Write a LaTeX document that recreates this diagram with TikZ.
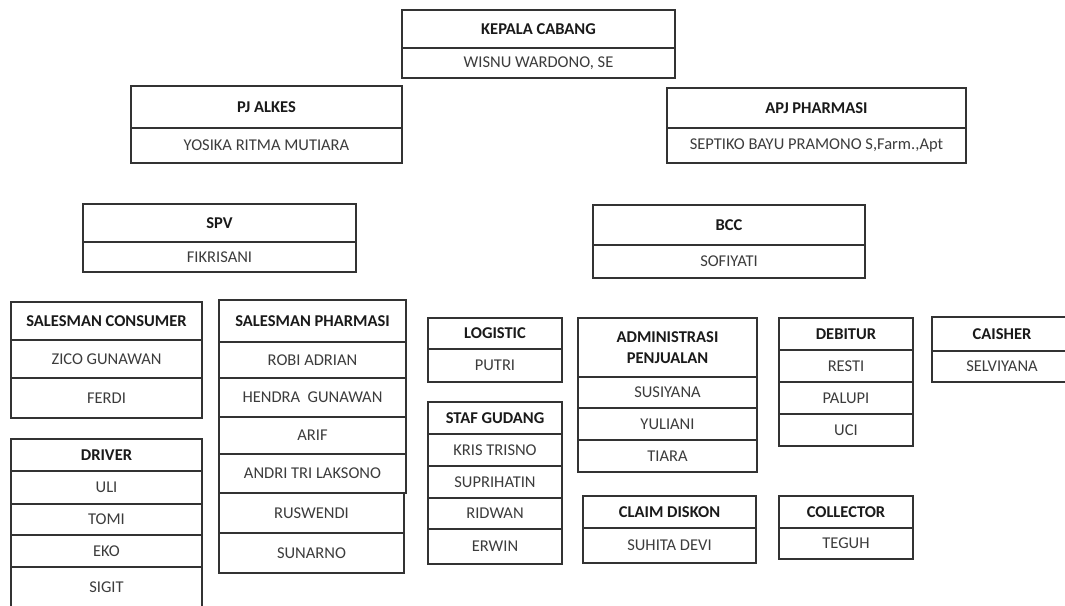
\documentclass[tikz,border=0pt]{standalone}
\usepackage{fontspec}
\setmainfont{Carlito}
\usepackage{xcolor}
\usepackage{tikz}
\usetikzlibrary{positioning}
\definecolor{boxline}{HTML}{333333}
\definecolor{headtext}{HTML}{1A1A1A}
\definecolor{nametext}{HTML}{3C3C3C}

\begin{document}
\begin{tikzpicture}[
    x=1pt, y=-1pt,
    every node/.style={align=center, inner sep=0pt, outer sep=0pt},
    cell/.style={rectangle, draw=boxline, line width=1.1pt, font=\fontsize{16.5}{21}\selectfont\color{nametext}},
    head/.style={cell, font=\fontsize{16.5}{21}\selectfont\bfseries\color{headtext}}
]
\fill[white] (0,0) rectangle (1065,605);
\useasboundingbox (0,0) rectangle (1065,605);
\clip (0,0) rectangle (1065,605);

% Top level
\node[head, minimum width=273pt, minimum height=38pt, anchor=north west] (kepala) at (402,10) {KEPALA CABANG};
\node[cell, minimum width=273pt, minimum height=30pt, below=0pt of kepala] (kepalanama) {WISNU WARDONO, SE};

% Second level
\node[head, minimum width=271pt, minimum height=42pt, anchor=north west] (alkes) at (131,86) {PJ ALKES};
\node[cell, minimum width=271pt, minimum height=35pt, below=0pt of alkes] (alkesnama) {YOSIKA RITMA MUTIARA};

\node[head, minimum width=299pt, minimum height=40pt, anchor=north west] (apj) at (667,88) {APJ PHARMASI};
\node[cell, minimum width=299pt, minimum height=35pt, below=0pt of apj] (apjnama) {SEPTIKO BAYU PRAMONO S,Farm.,Apt};

% Third level
\node[head, minimum width=273pt, minimum height=38pt, anchor=north west] (spv) at (83,204) {SPV};
\node[cell, minimum width=273pt, minimum height=30pt, below=0pt of spv] (spvnama) {FIKRISANI};

\node[head, minimum width=272pt, minimum height=40pt, anchor=north west] (bcc) at (593,205) {BCC};
\node[cell, minimum width=272pt, minimum height=33pt, below=0pt of bcc] (bccnama) {SOFIYATI};

% Salesman consumer
\node[head, minimum width=191pt, minimum height=38pt, anchor=north west] (consumer) at (11,302) {SALESMAN CONSUMER};
\node[cell, minimum width=191pt, minimum height=38pt, below=0pt of consumer] (zico) {ZICO GUNAWAN};
\node[cell, minimum width=191pt, minimum height=40pt, below=0pt of zico] (ferdi) {FERDI};

% Driver
\node[head, minimum width=191pt, minimum height=32pt, anchor=north west] (driver) at (11,439) {DRIVER};
\node[cell, minimum width=191pt, minimum height=33pt, below=0pt of driver] (uli) {ULI};
\node[cell, minimum width=191pt, minimum height=31pt, below=0pt of uli] (tomi) {TOMI};
\node[cell, minimum width=191pt, minimum height=32pt, below=0pt of tomi] (eko) {EKO};
\node[cell, minimum width=191pt, minimum height=40pt, below=0pt of eko] (sigit) {SIGIT};

% Salesman pharmasi
\node[head, minimum width=187pt, minimum height=42pt, anchor=north west] (pharmasi) at (219,300) {SALESMAN PHARMASI};
\node[cell, minimum width=187pt, minimum height=36pt, below=0pt of pharmasi] (robi) {ROBI ADRIAN};
\node[cell, minimum width=187pt, minimum height=39pt, below=0pt of robi] (hendra) {HENDRA~~GUNAWAN};
\node[cell, minimum width=187pt, minimum height=37pt, below=0pt of hendra] (arif) {ARIF};
\node[cell, minimum width=187pt, minimum height=39pt, below=0pt of arif] (andri) {ANDRI TRI LAKSONO};
\node[cell, minimum width=185pt, minimum height=40pt, anchor=north west] (ruswendi) at (andri.south west) {RUSWENDI};
\node[cell, minimum width=185pt, minimum height=40pt, below=0pt of ruswendi] (sunarno) {SUNARNO};

% Logistic and warehouse
\node[head, minimum width=134pt, minimum height=31pt, anchor=north west] (logistic) at (428,318) {LOGISTIC};
\node[cell, minimum width=134pt, minimum height=33pt, below=0pt of logistic] (putri) {PUTRI};

\node[head, minimum width=134pt, minimum height=32pt, anchor=north west] (gudang) at (428,402) {STAF GUDANG};
\node[cell, minimum width=134pt, minimum height=32pt, below=0pt of gudang] (kris) {KRIS TRISNO};
\node[cell, minimum width=134pt, minimum height=32pt, below=0pt of kris] (suprihatin) {SUPRIHATIN};
\node[cell, minimum width=134pt, minimum height=31pt, below=0pt of suprihatin] (ridwan) {RIDWAN};
\node[cell, minimum width=134pt, minimum height=35pt, below=0pt of ridwan] (erwin) {ERWIN};

% Sales administration
\node[head, minimum width=179pt, minimum height=59pt, anchor=north west] (admin) at (578,318) {ADMINISTRASI\\PENJUALAN};
\node[cell, minimum width=179pt, minimum height=31pt, below=0pt of admin] (susiyana) {SUSIYANA};
\node[cell, minimum width=179pt, minimum height=32pt, below=0pt of susiyana] (yuliani) {YULIANI};
\node[cell, minimum width=179pt, minimum height=32pt, below=0pt of yuliani] (tiara) {TIARA};

\node[head, minimum width=173pt, minimum height=32pt, anchor=north west] (claim) at (583,496) {CLAIM DISKON};
\node[cell, minimum width=173pt, minimum height=35pt, below=0pt of claim] (suhita) {SUHITA DEVI};

% Debtors and collection
\node[head, minimum width=134pt, minimum height=32pt, anchor=north west] (debitur) at (779,318) {DEBITUR};
\node[cell, minimum width=134pt, minimum height=32pt, below=0pt of debitur] (resti) {RESTI};
\node[cell, minimum width=134pt, minimum height=32pt, below=0pt of resti] (palupi) {PALUPI};
\node[cell, minimum width=134pt, minimum height=32pt, below=0pt of palupi] (uci) {UCI};

\node[head, minimum width=134pt, minimum height=32pt, anchor=north west] (collector) at (779,496) {COLLECTOR};
\node[cell, minimum width=134pt, minimum height=31pt, below=0pt of collector] (teguh) {TEGUH};

% Cashier
\node[head, minimum width=140pt, minimum height=34pt, anchor=north west] (caisher) at (932,317) {CAISHER};
\node[cell, minimum width=140pt, minimum height=31pt, below=0pt of caisher] (selviyana) {SELVIYANA};

\end{tikzpicture}
\end{document}
